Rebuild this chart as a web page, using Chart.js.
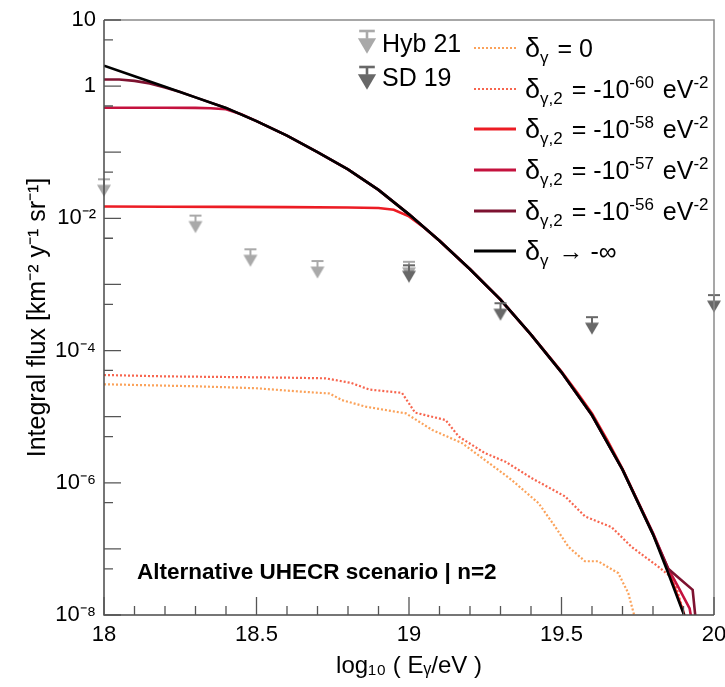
<!DOCTYPE html>
<html>
<head>
<meta charset="utf-8">
<script src="https://cdn.jsdelivr.net/npm/chart.js@4.4.0/dist/chart.umd.min.js"></script>
<style>
  html, body { margin: 0; padding: 0; background: #fff; }
  #c { display: block; }
</style>
</head>
<body>
<canvas id="c" width="725" height="687"></canvas>
<script>
// ---------------- DATA ----------------
const xTickValues = [18, 18.5, 19, 19.5, 20];
const yTickValues = [1e-8, 1e-6, 1e-4, 1e-2, 1, 10];
const yTickLabels = ['10⁻⁸', '10⁻⁶', '10⁻⁴', '10⁻²', '1', '10'];

// δγ → -∞ (black)
const xInf = [18.0, 18.1, 18.2, 18.3, 18.4, 18.5, 18.6, 18.7, 18.8, 18.9, 19.0, 19.1, 19.2, 19.3, 19.4, 19.5, 19.6, 19.7, 19.8, 19.85, 19.9, 19.92];
const yInf = [2.04, 1.41, 0.977, 0.676, 0.468, 0.295, 0.178, 0.100, 0.055, 0.0269, 0.01148, 4.57e-3, 1.70e-3, 5.9e-4, 1.74e-4, 4.68e-5, 1.05e-5, 1.58e-6, 1.66e-7, 4.27e-8, 1.05e-8, 5e-9];

// δγ,2 = -1e-56 (maroon)
const x56 = [18.0, 18.05, 18.1, 18.15, 18.2, 18.25, 18.3, 18.4, 18.5, 18.6, 18.7, 18.8, 18.9, 19.0, 19.1, 19.2, 19.3, 19.4, 19.5, 19.6, 19.7, 19.8, 19.85, 19.88, 19.93, 19.945];
const y56 = [1.26, 1.26, 1.20, 1.10, 0.955, 0.813, 0.676, 0.468, 0.295, 0.178, 0.100, 0.055, 0.0269, 0.01148, 4.57e-3, 1.70e-3, 5.9e-4, 1.74e-4, 4.68e-5, 1.05e-5, 1.58e-6, 1.66e-7, 5.0e-8, 3.8e-8, 2.4e-8, 5e-9];

// δγ,2 = -1e-57 (crimson)
const x57 = [18.0, 18.1, 18.2, 18.3, 18.35, 18.4, 18.45, 18.5, 18.6, 18.7, 18.8, 18.9, 19.0, 19.1, 19.2, 19.3, 19.4, 19.5, 19.6, 19.7, 19.8, 19.85, 19.88, 19.92, 19.935];
const y57 = [0.471, 0.471, 0.470, 0.468, 0.462, 0.447, 0.376, 0.295, 0.178, 0.100, 0.055, 0.0269, 0.01148, 4.57e-3, 1.70e-3, 5.9e-4, 1.74e-4, 4.68e-5, 1.05e-5, 1.58e-6, 1.74e-7, 5.0e-8, 2.8e-8, 1.26e-8, 5e-9];

// δγ,2 = -1e-58 (red)
const x58 = [18.0, 18.2, 18.4, 18.6, 18.8, 18.9, 18.95, 19.0, 19.05, 19.1, 19.2, 19.3, 19.4, 19.5, 19.55, 19.6, 19.65, 19.7, 19.8, 19.85, 19.9, 19.92];
const y58 = [0.0151, 0.0150, 0.0149, 0.0148, 0.0146, 0.0143, 0.0135, 0.0107, 7.2e-3, 4.57e-3, 1.70e-3, 5.9e-4, 1.74e-4, 4.8e-5, 2.35e-5, 1.12e-5, 4.4e-6, 1.62e-6, 1.7e-7, 4.7e-8, 1.1e-8, 5e-9];

// δγ,2 = -1e-60 (salmon, dotted)
const x60 = [18.0, 18.2, 18.4, 18.6, 18.727, 18.81, 18.87, 18.977, 19.02, 19.12, 19.163, 19.25, 19.316, 19.403, 19.512, 19.577, 19.664, 19.73, 19.817, 19.87, 19.904, 19.91];
const y60 = [4.27e-5, 4.07e-5, 3.98e-5, 3.89e-5, 3.80e-5, 3.24e-5, 2.57e-5, 2.29e-5, 1.15e-5, 8.9e-6, 5.0e-6, 2.79e-6, 2.09e-6, 1.17e-6, 6.2e-7, 3.1e-7, 2.14e-7, 1.07e-7, 5.4e-8, 3.4e-8, 9.3e-9, 5e-9];

// δγ = 0 (orange, dotted)
const x0 = [18.0, 18.3, 18.5, 18.64, 18.74, 18.78, 18.86, 18.99, 19.076, 19.174, 19.25, 19.294, 19.337, 19.425, 19.48, 19.523, 19.577, 19.62, 19.686, 19.719, 19.74, 19.745];
const y0 = [3.09e-5, 2.88e-5, 2.69e-5, 2.40e-5, 2.24e-5, 1.78e-5, 1.41e-5, 1.12e-5, 6.3e-6, 3.98e-6, 2.19e-6, 1.55e-6, 1.10e-6, 4.9e-7, 2.14e-7, 1.07e-7, 6.5e-8, 6.5e-8, 4.3e-8, 2.14e-8, 9.3e-9, 4e-9];

// Upper limits
const xHyb = [18.0, 18.3, 18.48, 18.7, 19.0];
const yHyb = [0.039, 0.011, 3.4e-3, 2.26e-3, 2.2e-3];
const xSD = [19.0, 19.3, 19.6, 20.0];
const ySD = [1.95e-3, 5.2e-4, 3.2e-4, 6.9e-4];

// ---------------- STYLE ----------------
const C_INF = '#000000', C56 = '#7d1230', C57 = '#c4123e', C58 = '#ec1c24', C60 = '#f7654e', C0 = '#fba25a';
const C_HYB = '#a9a9a9', C_SD = '#686868';
const FONT = '"Liberation Sans", Arial, Helvetica, sans-serif';

const pts = (xs, ys) => xs.map((x, i) => ({ x: x, y: ys[i] }));

function arrowMarker(color, s) {
  const c = document.createElement('canvas');
  c.width = 40 * s; c.height = 40 * s;
  const g = c.getContext('2d');
  g.scale(s, s);
  g.strokeStyle = color; g.fillStyle = color; g.lineWidth = 2;
  g.beginPath(); g.moveTo(14, 20); g.lineTo(26, 20); g.stroke();
  g.beginPath(); g.moveTo(20, 20); g.lineTo(20, 26); g.stroke();
  g.beginPath(); g.moveTo(13, 25.5); g.lineTo(27, 25.5); g.lineTo(20, 37.5); g.closePath(); g.fill();
  return c;
}
const mHyb = arrowMarker(C_HYB, 1);
const mSD = arrowMarker(C_SD, 1);
const mHybL = arrowMarker(C_HYB, 1.3);
const mSDL = arrowMarker(C_SD, 1.3);

function lineDs(label, data, color, dotted, width, order) {
  return {
    label: label, data: data, borderColor: color, backgroundColor: color,
    borderWidth: width || 2.6, borderDash: dotted ? [2, 2] : [], pointRadius: 0,
    fill: false, tension: 0, order: order
  };
}

const datasets = [
  lineDs('δγ = 0', pts(x0, y0), C0, true, 2.2, 8),
  lineDs('δγ,2 = -1e-60 eV^-2', pts(x60, y60), C60, true, 2.2, 7),
  lineDs('δγ,2 = -1e-58 eV^-2', pts(x58, y58), C58, false, 2.6, 6),
  lineDs('δγ,2 = -1e-57 eV^-2', pts(x57, y57), C57, false, 2.6, 5),
  lineDs('δγ,2 = -1e-56 eV^-2', pts(x56, y56), C56, false, 2.6, 4),
  lineDs('δγ → -∞', pts(xInf, yInf), C_INF, false, 2.6, 3),
  { label: 'Hyb 21', data: pts(xHyb, yHyb), showLine: false, pointStyle: mHyb, pointRadius: 10, borderColor: C_HYB, backgroundColor: C_HYB, clip: false, order: 2 },
  { label: 'SD 19', data: pts(xSD, ySD), showLine: false, pointStyle: mSD, pointRadius: 10, borderColor: C_SD, backgroundColor: C_SD, clip: false, order: 1 }
];

// ---------------- PLUGINS ----------------
const framePlugin = {
  id: 'frame',
  afterDatasetsDraw(chart) {
    const { ctx, chartArea: a, scales: { x, y } } = chart;
    ctx.save();
    ctx.lineWidth = 1.5;
    ctx.strokeStyle = '#8a8a8a';
    ctx.beginPath();
    ctx.moveTo(a.left, a.top); ctx.lineTo(a.right, a.top); ctx.lineTo(a.right, a.bottom);
    ctx.stroke();
    ctx.strokeStyle = '#4a4a4a';
    ctx.beginPath();
    ctx.moveTo(a.left, a.top); ctx.lineTo(a.left, a.bottom); ctx.lineTo(a.right, a.bottom);
    ctx.stroke();
    // ticks
    ctx.strokeStyle = '#555';
    ctx.lineWidth = 1.3;
    ctx.beginPath();
    for (let e = -8; e <= 1; e++) {
      const py = y.getPixelForValue(Math.pow(10, e));
      ctx.moveTo(a.left, py); ctx.lineTo(a.left + 17, py);
      if (e < 1) {
        const p5 = y.getPixelForValue(5 * Math.pow(10, e));
        ctx.moveTo(a.left, p5); ctx.lineTo(a.left + 9, p5);
      }
    }
    for (let i = 0; i <= 20; i++) {
      const v = 18 + i * 0.1;
      const px = x.getPixelForValue(v);
      const len = (i % 5 === 0) ? 18 : 9;
      ctx.moveTo(px, a.bottom); ctx.lineTo(px, a.bottom - len);
    }
    ctx.stroke();
    ctx.restore();
  }
};

function richText(ctx, x, y, parts) {
  let cx = x;
  for (const p of parts) {
    ctx.font = (p.bold ? 'bold ' : '') + p.size + 'px ' + FONT;
    ctx.fillText(p.t, cx, y + (p.dy || 0));
    cx += ctx.measureText(p.t).width + (p.gap || 0);
  }
  return cx;
}

const legendPlugin = {
  id: 'customLegend',
  afterDraw(chart) {
    const ctx = chart.ctx;
    ctx.save();
    ctx.fillStyle = '#000';
    ctx.textBaseline = 'alphabetic';
    // markers column
    ctx.drawImage(mHybL, 367 - 26, 31 - 26);
    ctx.drawImage(mSDL, 367 - 26, 67 - 26);
    ctx.font = '25px ' + FONT;
    ctx.fillText('Hyb 21', 382, 52);
    ctx.fillText('SD 19', 382, 86);
    // lines column
    const rows = [
      { c: C0, dot: true, sub: 'γ', sup: null },
      { c: C60, dot: true, sub: 'γ,2', sup: '-60' },
      { c: C58, dot: false, sub: 'γ,2', sup: '-58' },
      { c: C57, dot: false, sub: 'γ,2', sup: '-57' },
      { c: C56, dot: false, sub: 'γ,2', sup: '-56' },
      { c: C_INF, dot: false, sub: 'γ', sup: null, inf: true }
    ];
    const ys = [48, 89, 129, 170, 211, 251];
    rows.forEach((r, i) => {
      const ly = ys[i];
      ctx.save();
      ctx.strokeStyle = r.c;
      ctx.lineWidth = r.dot ? 2.2 : 3;
      ctx.setLineDash(r.dot ? [2, 2] : []);
      ctx.beginPath(); ctx.moveTo(474, ly); ctx.lineTo(516, ly); ctx.stroke();
      ctx.restore();
      const base = ly + 9;
      let parts;
      if (i === 0) {
        parts = [{ t: 'δ', size: 27 }, { t: 'γ', size: 17, dy: 6, gap: 2 }, { t: ' = 0', size: 25 }];
      } else if (r.inf) {
        parts = [{ t: 'δ', size: 27 }, { t: 'γ', size: 17, dy: 6, gap: 3 }, { t: ' → -∞', size: 25 }];
      } else {
        parts = [{ t: 'δ', size: 27 }, { t: 'γ,2', size: 17, dy: 6, gap: 2 }, { t: ' = -10', size: 25 }, { t: r.sup, size: 17, dy: -10, gap: 2 }, { t: ' eV', size: 25 }, { t: '-2', size: 17, dy: -10 }];
      }
      richText(ctx, 525, base, parts);
    });
    // annotation
    ctx.font = 'bold 22.5px ' + FONT;
    ctx.fillText('Alternative UHECR scenario | n=2', 137, 579);
    ctx.restore();
  }
};

// ---------------- CHART ----------------
new Chart(document.getElementById('c'), {
  type: 'line',
  data: { datasets: datasets },
  options: {
    responsive: false,
    animation: false,
    devicePixelRatio: 1,
    layout: { padding: { top: 20, right: 9, left: 0, bottom: 0 } },
    plugins: { legend: { display: false }, tooltip: { enabled: false } },
    scales: {
      x: {
        type: 'linear', min: 18, max: 20,
        afterBuildTicks(s) { s.ticks = xTickValues.map(v => ({ value: v })); },
        afterFit(s) { s.height = 72; s.paddingLeft = 0; s.paddingRight = 0; },
        grid: { display: false, drawTicks: false },
        border: { display: false },
        ticks: {
          color: '#000', padding: 7, maxRotation: 0, autoSkip: false,
          font: { family: FONT, size: 22 },
          callback: v => String(v)
        },
        title: {
          display: true, text: 'log₁₀ ( Eᵧ/eV )', color: '#000',
          font: { family: FONT, size: 24 }, padding: { top: 0, bottom: 6 }
        }
      },
      y: {
        type: 'logarithmic', min: 1e-8, max: 10,
        afterBuildTicks(s) { s.ticks = yTickValues.map(v => ({ value: v })); },
        afterFit(s) { s.width = 104; s.paddingTop = 0; s.paddingBottom = 0; },
        grid: { display: false, drawTicks: false },
        border: { display: false },
        ticks: {
          color: '#000', padding: 8, autoSkip: false,
          font: { family: FONT, size: 22 },
          callback: (v) => {
            const i = yTickValues.findIndex(t => Math.abs(Math.log10(t) - Math.log10(v)) < 1e-6);
            return i >= 0 ? yTickLabels[i] : '';
          }
        },
        title: {
          display: true, text: 'Integral flux [km⁻² y⁻¹ sr⁻¹]', color: '#000',
          font: { family: FONT, size: 25 }, padding: { top: 23, bottom: 0 }
        }
      }
    }
  },
  plugins: [framePlugin, legendPlugin]
});
</script>
</body>
</html>
